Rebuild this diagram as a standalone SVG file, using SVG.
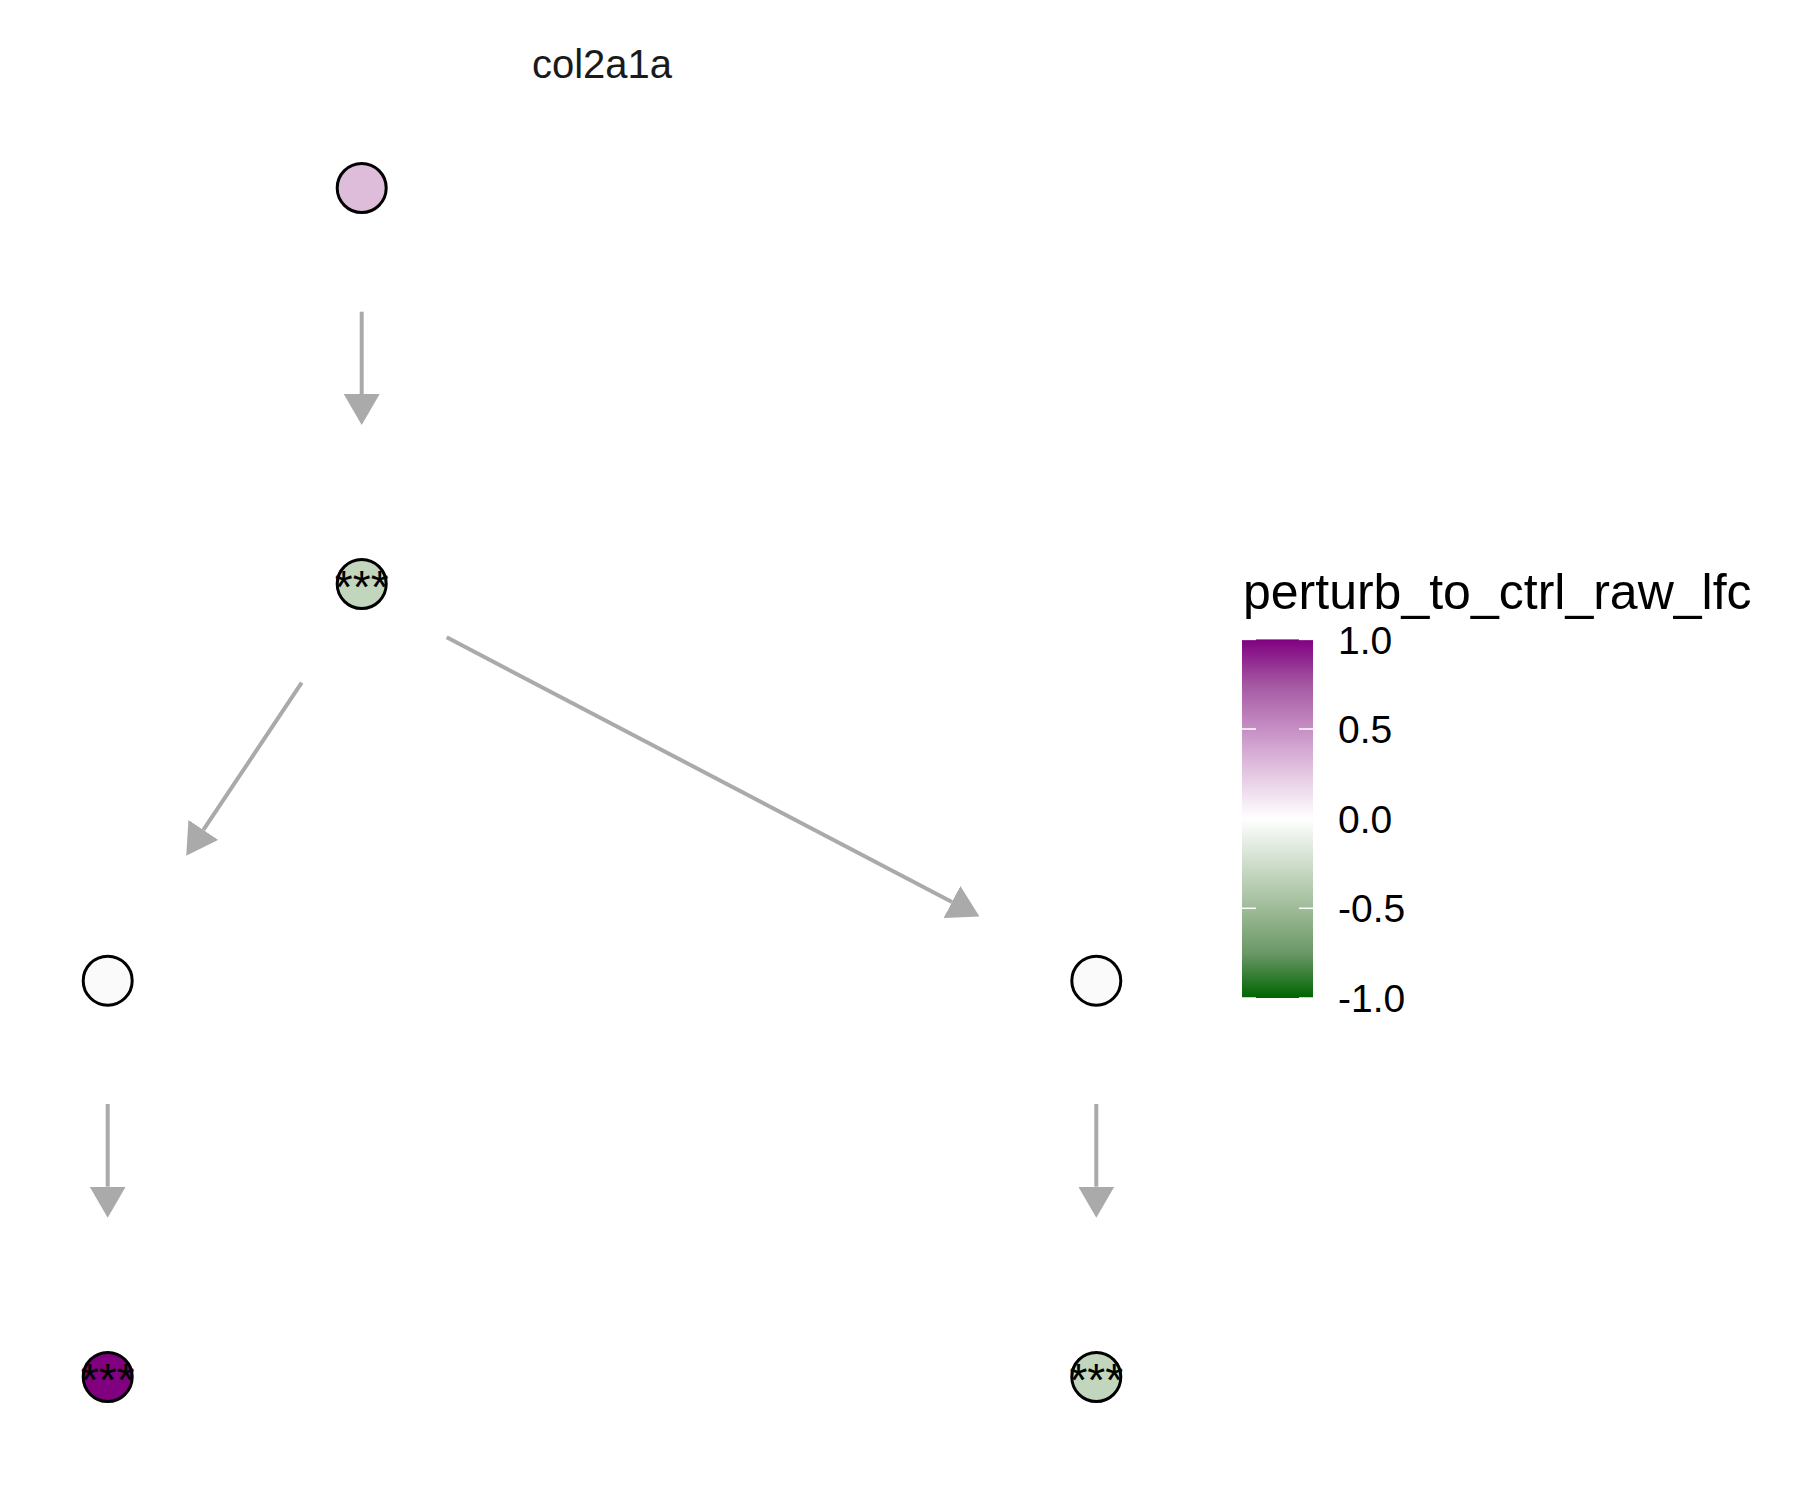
<svg xmlns="http://www.w3.org/2000/svg" width="1800" height="1500" viewBox="0 0 1800 1500">
<style>
.node{stroke:#000000;stroke-width:3}
.edge{stroke:#AAAAAA;stroke-width:4;fill:none}
.stars{font-family:"Liberation Sans",Arial,sans-serif;font-size:46px;text-anchor:middle;fill:#000000}
.lab{font-family:"Liberation Sans",Arial,sans-serif;font-size:39px;fill:#000000}
.tick{stroke:#FFFFFF;stroke-width:1.5}
</style>
<defs>
<marker id="arrow" viewBox="0 0 31 36" refX="0" refY="18" markerWidth="31" markerHeight="36" markerUnits="userSpaceOnUse" orient="auto">
<path d="M0,0 L31,18 L0,36 Z" fill="#AAAAAA"/>
</marker>
<linearGradient id="grad" x1="0" y1="0" x2="0" y2="1">
<stop offset="0" stop-color="#800080"/>
<stop offset="0.125" stop-color="#A457A2"/>
<stop offset="0.25" stop-color="#C68FC4"/>
<stop offset="0.375" stop-color="#E4C7E2"/>
<stop offset="0.5" stop-color="#FFFFFF"/>
<stop offset="0.625" stop-color="#CFDDCB"/>
<stop offset="0.75" stop-color="#9EBB98"/>
<stop offset="0.875" stop-color="#6A9866"/>
<stop offset="1" stop-color="#006400"/>
</linearGradient>
</defs>
<rect width="1800" height="1500" fill="#FFFFFF"/>
<text x="602" y="78" font-family="'Liberation Sans',Arial,sans-serif" font-size="40" text-anchor="middle" fill="#1A1A1A">col2a1a</text>
<g id="edges">
<line class="edge" x1="361.7" y1="311.7" x2="361.7" y2="394" marker-end="url(#arrow)"/>
<line class="edge" x1="301.7" y1="682.7" x2="203.4" y2="829.9" marker-end="url(#arrow)"/>
<line class="edge" x1="446.7" y1="637.3" x2="952" y2="902" marker-end="url(#arrow)"/>
<line class="edge" x1="107.7" y1="1104" x2="107.7" y2="1186.7" marker-end="url(#arrow)"/>
<line class="edge" x1="1096.3" y1="1104" x2="1096.3" y2="1186.7" marker-end="url(#arrow)"/>
</g>
<g id="n1"><circle class="node" cx="361.7" cy="188" r="24.5" fill="#DEBDDB"/></g>
<g id="n2"><circle class="node" cx="361.7" cy="584" r="24.5" fill="#C1D6BC"/><text class="stars" x="361.7" y="603">***</text></g>
<g id="n3"><circle class="node" cx="107.7" cy="980.7" r="24.5" fill="#FAFAFA"/></g>
<g id="n4"><circle class="node" cx="1096.3" cy="980.7" r="24.5" fill="#FAFAFA"/></g>
<g id="n5"><circle class="node" cx="107.7" cy="1377" r="24.5" fill="#800080"/><text class="stars" x="107.7" y="1396">***</text></g>
<g id="n6"><circle class="node" cx="1096.3" cy="1377" r="24.5" fill="#C1D6BC"/><text class="stars" x="1096.3" y="1396">***</text></g>
<g id="legend">
<text x="1243" y="609" font-family="'Liberation Sans',Arial,sans-serif" font-size="50" fill="#000000">perturb_to_ctrl_raw_lfc</text>
<rect x="1242" y="639.4" width="71" height="358.6" fill="url(#grad)"/>
<line class="tick" x1="1242" y1="639.4" x2="1256" y2="639.4"/><line class="tick" x1="1299" y1="639.4" x2="1313" y2="639.4"/>
<line class="tick" x1="1242" y1="729" x2="1256" y2="729"/><line class="tick" x1="1299" y1="729" x2="1313" y2="729"/>
<line class="tick" x1="1242" y1="818.7" x2="1256" y2="818.7"/><line class="tick" x1="1299" y1="818.7" x2="1313" y2="818.7"/>
<line class="tick" x1="1242" y1="908.3" x2="1256" y2="908.3"/><line class="tick" x1="1299" y1="908.3" x2="1313" y2="908.3"/>
<line class="tick" x1="1242" y1="998" x2="1256" y2="998"/><line class="tick" x1="1299" y1="998" x2="1313" y2="998"/>
<text class="lab" x="1338" y="654">1.0</text>
<text class="lab" x="1338" y="743">0.5</text>
<text class="lab" x="1338" y="833">0.0</text>
<text class="lab" x="1338" y="922">-0.5</text>
<text class="lab" x="1338" y="1012">-1.0</text>
</g>
</svg>
